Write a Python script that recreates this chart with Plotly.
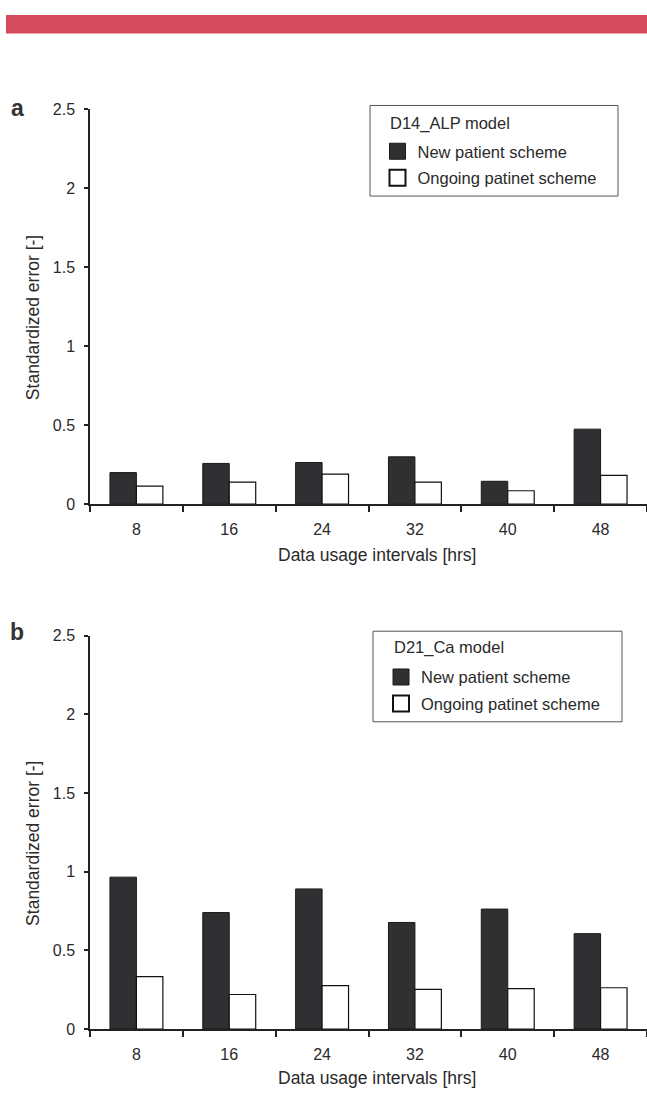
import plotly.graph_objects as go

categories = ["8", "16", "24", "32", "40", "48"]
a_new = [0.20, 0.258, 0.264, 0.30, 0.145, 0.475]
a_ongoing = [0.114, 0.14, 0.19, 0.14, 0.085, 0.182]
b_new = [0.965, 0.74, 0.89, 0.677, 0.762, 0.606]
b_ongoing = [0.333, 0.219, 0.275, 0.252, 0.256, 0.262]
y_ticks = [0, 0.5, 1, 1.5, 2, 2.5]
y_ticklabels = ["0", "0.5", "1", "1.5", "2", "2.5"]
series_names = ["New patient scheme", "Ongoing patinet scheme"]
legend_titles = ["D14_ALP model", "D21_Ca model"]
x_title = "Data usage intervals [hrs]"
y_title = "Standardized error [-]"

W, H = 647, 1100
FONT = "Liberation Sans, Arial, sans-serif"
DARK = "#303033"
TXT = "#2a2a2a"

fig = go.Figure()

def add_panel(new, ongoing, xa, ya, legend, tag):
    fig.add_trace(go.Bar(x=categories, y=new, name=series_names[0], showlegend=False,
                         marker=dict(color=DARK, line=dict(color="#1a1a1a", width=1)),
                         xaxis=xa, yaxis=ya))
    fig.add_trace(go.Bar(x=categories, y=ongoing, name=series_names[1], showlegend=False,
                         marker=dict(color="white", line=dict(color="#111", width=1.2)),
                         xaxis=xa, yaxis=ya))
    # legend entries (square swatches)
    fig.add_trace(go.Scatter(x=[None], y=[None], mode="markers", name=series_names[0],
                             legendgroup=tag + "1",
                             marker=dict(symbol="square", size=16, color=DARK,
                                         line=dict(color="#1a1a1a", width=1)),
                             xaxis=xa, yaxis=ya, legend=legend))
    fig.add_trace(go.Scatter(x=[None], y=[None], mode="markers", name=series_names[1],
                             legendgroup=tag + "2",
                             marker=dict(symbol="square", size=16, color="white",
                                         line=dict(color="#111", width=2)),
                             xaxis=xa, yaxis=ya, legend=legend))

add_panel(a_new, a_ongoing, "x", "y", "legend", "a")
add_panel(b_new, b_ongoing, "x2", "y2", "legend2", "b")

def py(px):
    return 1 - px / H

def pxx(px):
    return px / W

xdom = [90 / W, 1.0]
axis_common_x = dict(
    type="category", categoryorder="array", categoryarray=categories,
    showline=True, linecolor="#222", linewidth=1.5,
    ticks="outside", tickson="boundaries", ticklen=6, tickwidth=1.5, tickcolor="#222",
    tickfont=dict(family=FONT, size=16, color=TXT), showgrid=False, zeroline=False,
    ticklabelstandoff=10,
)
axis_common_y = dict(
    range=[0, 2.5], tickvals=y_ticks, ticktext=y_ticklabels, showline=True,
    linecolor="#222", linewidth=1.5, ticks="outside", ticklen=4, tickwidth=1.5, tickcolor="#222",
    tickfont=dict(family=FONT, size=16, color=TXT), showgrid=False, zeroline=False,
    ticklabelstandoff=6,
)

leg_common = dict(
    borderwidth=0, bgcolor="rgba(0,0,0,0)",
    font=dict(family=FONT, size=16.5, color=TXT),
    xanchor="left", yanchor="top", traceorder="grouped",
    itemsizing="trace", tracegroupgap=2,
)

fig.update_layout(
    width=W, height=H, margin=dict(l=0, r=0, t=0, b=0),
    plot_bgcolor="white", paper_bgcolor="white",
    barmode="group", bargap=0.43, bargroupgap=0,
    xaxis=dict(domain=xdom, anchor="y", **axis_common_x),
    yaxis=dict(domain=[py(504), py(102.7)], anchor="x", **axis_common_y),
    xaxis2=dict(domain=xdom, anchor="y2", **axis_common_x),
    yaxis2=dict(domain=[py(1037), py(637.5)], anchor="x2", **axis_common_y),
    legend=dict(x=pxx(377.5), y=py(128), **leg_common),
    legend2=dict(x=pxx(381), y=py(662), **leg_common),
    showlegend=True,
)

# red header band
fig.add_shape(type="rect", xref="paper", yref="paper", x0=pxx(6), x1=1.0, y0=py(26), y1=py(7),
              fillcolor="#d64a5f", line=dict(width=0), layer="below")

# legend boxes and legend titles
for (x0, x1, y0, y1), title, (tx, ty) in [((370, 618, 99, 191), legend_titles[0], (388, 117)),
                                          ((373, 622, 633, 725), legend_titles[1], (392, 650))]:
    fig.add_shape(type="rect", xref="paper", yref="paper", x0=pxx(x0), x1=pxx(x1), y0=py(y1), y1=py(y0),
                  line=dict(color="#555", width=1), fillcolor="rgba(0,0,0,0)")
    fig.add_annotation(text=title, xref="paper", yref="paper", x=pxx(tx), y=py(ty),
                       xanchor="left", yanchor="middle", showarrow=False,
                       font=dict(family=FONT, size=16.5, color=TXT))

# axis titles
for ycen in [315, 849]:
    fig.add_annotation(text=y_title, xref="paper", yref="paper", x=pxx(33), y=py(ycen),
                       xanchor="center", yanchor="middle", textangle=-90, showarrow=False,
                       font=dict(family=FONT, size=17.5, color=TXT))
for ycen in [556, 1087]:
    fig.add_annotation(text=x_title, xref="paper", yref="paper", x=pxx(377), y=py(ycen),
                       xanchor="center", yanchor="middle", showarrow=False,
                       font=dict(family=FONT, size=17.5, color=TXT))

# panel labels
for txt, ypix in [("a", 102), ("b", 634)]:
    fig.add_annotation(text=f"<b>{txt}</b>", xref="paper", yref="paper", x=pxx(17), y=py(ypix),
                       xanchor="center", yanchor="middle", showarrow=False,
                       font=dict(family=FONT, size=23, color="#333"))

fig.write_html("out.html", config={"displayModeBar": False},
               post_script="document.body.style.margin='0';document.body.style.overflow='hidden';")
